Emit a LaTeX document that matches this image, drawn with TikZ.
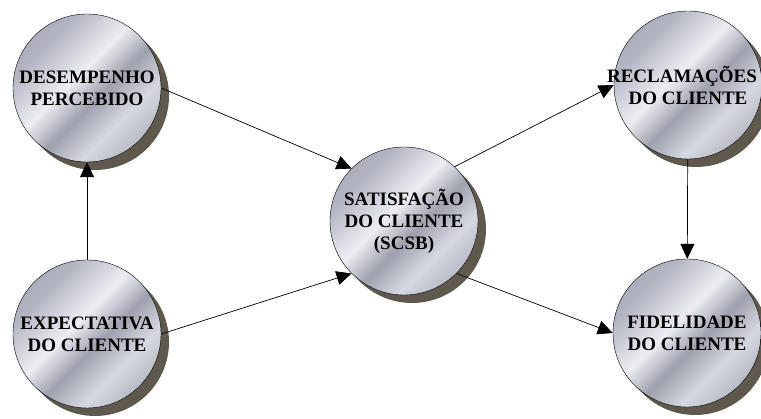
\documentclass[tikz,border=0pt]{standalone}
\usepackage{fontspec}
\setmainfont{Liberation Serif}
\usepackage{tikz}
\usetikzlibrary{arrows.meta,shapes,shadows}

\definecolor{m1}{rgb}{0.52,0.53,0.58}%
\definecolor{m2}{rgb}{0.70,0.71,0.76}%
\definecolor{m3}{rgb}{0.93,0.93,0.95}%
\definecolor{m4}{rgb}{0.62,0.63,0.68}%
\definecolor{m5}{rgb}{0.84,0.85,0.88}%
\definecolor{m6}{rgb}{0.60,0.61,0.66}%
\definecolor{m7}{rgb}{0.46,0.47,0.52}%
\definecolor{sombra}{rgb}{0.37,0.35,0.30}%

\pgfdeclarehorizontalshading{metal}{100bp}{%
  color(0bp)=(m1); color(30bp)=(m2); color(45bp)=(m3); color(55bp)=(m4);
  color(66bp)=(m5); color(85bp)=(m6); color(100bp)=(m7)}

\begin{document}
\begin{tikzpicture}[x=1pt,y=1pt,>={Triangle[length=15pt,width=14pt]},
  bola/.style={draw=black,circle,minimum size=148pt,inner sep=0pt,
    shading=metal,shading angle=-45,
    drop shadow={shadow xshift=8pt,shadow yshift=-8pt,fill=sombra,opacity=1},
    font=\fontsize{19}{22}\selectfont\bfseries,align=center},
  seta/.style={->,draw=black,line width=0.7pt}]
%%
\useasboundingbox (0,0) rectangle (761,419);
  \node (desemp) at (87,331) [bola] {DESEMPENHO\\PERCEBIDO};
  \node (expect) at (87,85) [bola] {EXPECTATIVA\\DO CLIENTE};
  \node (satisf) at (404,198) [bola] {SATISFAÇÃO\\DO CLIENTE\\(SCSB)};
  \node (reclam) at (688,334) [bola] {\hspace*{-12pt}RECLAMAÇÕES\\DO CLIENTE};
  \node (fidel) at (687,86) [bola] {FIDELIDADE\\DO CLIENTE};

  \draw[seta] (desemp.east) -- (satisf.135);
  \draw[seta] (expect.east) -- (satisf.225);
  \draw[seta] (expect) -- (desemp);
  \draw[seta] (satisf.47) -- (reclam.west);
  \draw[seta] (satisf.-45) -- (fidel.west);
  \draw[seta] (reclam) -- (fidel);
%
\end{tikzpicture}
\end{document}
